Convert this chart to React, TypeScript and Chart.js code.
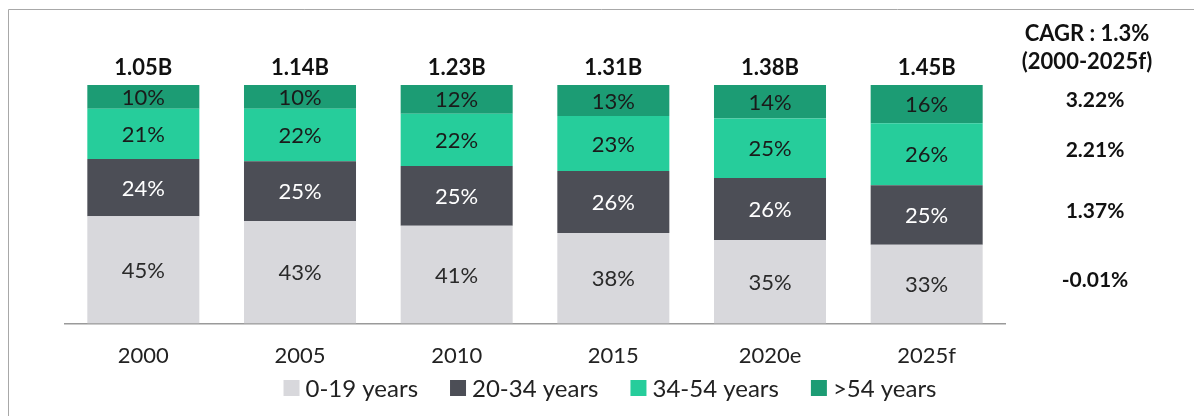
import React, { useEffect, useRef } from "react";
import { Chart, registerables } from "chart.js";

Chart.register(...registerables);

const categories = ["2000", "2005", "2010", "2015", "2020e", "2025f"];
const totals = ["1.05B", "1.14B", "1.23B", "1.31B", "1.38B", "1.45B"];
const age0to19 = [45, 43, 41, 38, 35, 33];
const age20to34 = [24, 25, 25, 26, 26, 25];
const age34to54 = [21, 22, 22, 23, 25, 26];
const age54plus = [10, 10, 12, 13, 14, 16];
const seriesNames = ["0-19 years", "20-34 years", "34-54 years", ">54 years"];
const seriesColors = ["#d8d8dc", "#4c4e56", "#26cd9b", "#1c9c74"];
const labelColors = ["#2a2a2a", "#ffffff", "#1a1a1a", "#1a1a1a"];
const cagrTitle = ["CAGR : 1.3%", "(2000-2025f)"];
const cagrValues = ["-0.01%", "1.37%", "2.21%", "3.22%"];

const FONT = "Lato, 'Open Sans', sans-serif";

const overlay = {
  id: "overlay",
  afterDatasetsDraw(chart: any) {
    const { ctx, chartArea } = chart;
    ctx.save();
    // frame
    ctx.strokeStyle = "#a8a8a8";
    ctx.lineWidth = 1;
    ctx.beginPath();
    ctx.moveTo(8.5, 416);
    ctx.lineTo(8.5, 9.5);
    ctx.lineTo(1194, 9.5);
    ctx.stroke();

    ctx.textAlign = "center";
    ctx.textBaseline = "middle";
    // segment labels
    chart.data.datasets.forEach((ds: any, di: number) => {
      const meta = chart.getDatasetMeta(di);
      ctx.font = `22px ${FONT}`;
      ctx.fillStyle = labelColors[di];
      meta.data.forEach((el: any, i: number) => {
        const v = ds.data[i];
        const cy = (el.y + el.base) / 2;
        ctx.fillText(`${v}%`, el.x, cy + 1);
      });
    });
    // totals
    const xs = chart.scales.x;
    ctx.font = `bold 22px ${FONT}`;
    ctx.fillStyle = "#111111";
    totals.forEach((t, i) => {
      ctx.fillText(t, xs.getPixelForValue(i), chartArea.top - 17);
    });
    // CAGR column
    const cx = chartArea.right + 82;
    ctx.fillText(cagrTitle[0], cx, 34);
    ctx.fillText(cagrTitle[1], cx, 62);
    ctx.font = `bold 21px ${FONT}`;
    const last = categories.length - 1;
    cagrValues.forEach((c, di) => {
      const el = chart.getDatasetMeta(di).data[last];
      const cy = (el.y + el.base) / 2;
      ctx.fillText(c, cx + 8, cy - 4);
    });

    // legend
    ctx.font = `24px ${FONT}`;
    ctx.textAlign = "left";
    const box = 16;
    const boxGap = 6;
    const itemGap = 32;
    const widths = seriesNames.map((n) => box + boxGap + ctx.measureText(n).width);
    const total = widths.reduce((a, b) => a + b, 0) + itemGap * (widths.length - 1);
    let x = 610 - total / 2;
    const ly = 388;
    seriesNames.forEach((n, i) => {
      ctx.fillStyle = seriesColors[i];
      ctx.fillRect(x, ly - box / 2, box, box);
      ctx.fillStyle = "#222";
      ctx.fillText(n, x + box + boxGap, ly + 1);
      x += widths[i] + itemGap;
    });
    ctx.restore();
  },
};

export default function App() {
  const ref = useRef<HTMLCanvasElement>(null);
  useEffect(() => {
    if (!ref.current) return;
    const seriesData = [age0to19, age20to34, age34to54, age54plus];
    const chart = new Chart(ref.current, {
      type: "bar",
      data: {
        labels: categories,
        datasets: seriesNames.map((name, i) => ({
          label: name,
          data: seriesData[i],
          backgroundColor: seriesColors[i],
          borderWidth: 0,
          barPercentage: 0.715,
          categoryPercentage: 1,
        })),
      },
      options: {
        animation: false,
        responsive: false,
        maintainAspectRatio: false,
        layout: { padding: { left: 65, right: 189, top: 85, bottom: 28 } },
        scales: {
          x: {
            stacked: true,
            grid: { display: false, drawTicks: false },
            border: { display: true, color: "#9a9a9a", width: 1.5 },
            ticks: { color: "#222", padding: 19, font: { family: FONT, size: 22 } },
          },
          y: { stacked: true, display: false, min: 0, max: 100 },
        },
        plugins: {
          legend: { display: false },
          tooltip: { enabled: false },
        },
      },
      plugins: [overlay],
    });
    return () => chart.destroy();
  }, []);
  return (
    <div style={{ position: "fixed", left: 0, top: 0, width: 1194, height: 416, background: "#fff" }}>
      <canvas ref={ref} width={1194} height={416} style={{ display: "block" }} />
    </div>
  );
}
